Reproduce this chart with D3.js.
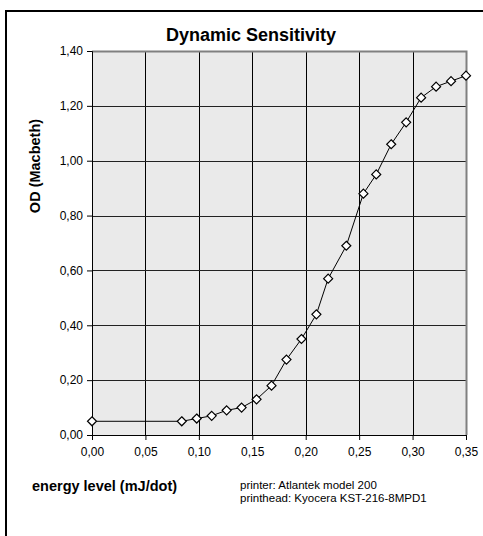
<!DOCTYPE html>
<html>
<head>
<meta charset="utf-8">
<script src="https://cdn.jsdelivr.net/npm/d3@7"></script>
<style>
  body { margin: 0; background: #fff; }
  text { font-family: "Liberation Sans", Arial, sans-serif; }
</style>
</head>
<body>
<div class="chart"></div>
<script>
// energy level (mJ/dot) and measured OD
var energy = [0.000, 0.084, 0.098, 0.112, 0.126, 0.140, 0.154, 0.168, 0.182, 0.196,
  0.210, 0.221, 0.238, 0.254, 0.266, 0.280, 0.294, 0.308, 0.322, 0.336, 0.350];
var od = [0.05, 0.05, 0.06, 0.07, 0.09, 0.10, 0.13, 0.18, 0.275, 0.35,
  0.44, 0.57, 0.69, 0.88, 0.95, 1.06, 1.14, 1.23, 1.27, 1.29, 1.31];
var xTicks = [0, 0.05, 0.10, 0.15, 0.20, 0.25, 0.30, 0.35];
var yTicks = [0, 0.2, 0.4, 0.6, 0.8, 1.0, 1.2, 1.4];
var notes = ["printer: Atlantek model 200", "printhead: Kyocera KST-216-8MPD1"];

var width = 483, height = 536;
var margin = { top: 51, right: 17, bottom: 101, left: 92 };
var plotW = width - margin.left - margin.right,
  plotH = height - margin.top - margin.bottom;

var fmt = function (d) { return d3.format(".2f")(d).replace(".", ","); };

var svg = d3.select(".chart").append("svg")
  .attr("width", width)
  .attr("height", height);

// outer chart frame
svg.append("rect")
  .attr("x", 6).attr("y", 11)
  .attr("width", 500).attr("height", 540)
  .style("fill", "none")
  .style("stroke", "#000")
  .style("stroke-width", 2);

var g = svg.append("g")
  .attr("transform", "translate(" + margin.left + "," + margin.top + ")");

var x = d3.scaleLinear().domain([0, 0.35]).range([0, plotW]);
var y = d3.scaleLinear().domain([0, 1.4]).range([plotH, 0]);

g.append("rect")
  .attr("width", plotW).attr("height", plotH)
  .style("fill", "#eaeaea");

// grid
g.selectAll(".vgrid").data(xTicks.slice(1, -1)).enter().append("line")
  .attr("x1", function (d) { return Math.round(x(d)) + 0.5; })
  .attr("x2", function (d) { return Math.round(x(d)) + 0.5; })
  .attr("y1", 0).attr("y2", plotH)
  .style("stroke", "#000");
g.selectAll(".hgrid").data(yTicks.slice(1, -1)).enter().append("line")
  .attr("x1", 0).attr("x2", plotW)
  .attr("y1", function (d) { return Math.round(y(d)) + 0.5; })
  .attr("y2", function (d) { return Math.round(y(d)) + 0.5; })
  .style("stroke", "#222");

// grey top/right frame
g.append("path")
  .attr("d", "M0,0.5H" + (plotW + 0.5) + "V" + plotH)
  .style("fill", "none")
  .style("stroke", "#808080")
  .style("stroke-width", 2);

// axes
var xAxis = g.append("g")
  .attr("transform", "translate(0," + plotH + ")")
  .call(d3.axisBottom(x).tickValues(xTicks).tickFormat(fmt).tickSize(5).tickPadding(7));
var yAxis = g.append("g")
  .call(d3.axisLeft(y).tickValues(yTicks).tickFormat(fmt).tickSize(5).tickPadding(4));
[xAxis, yAxis].forEach(function (a) {
  a.select(".domain").style("stroke", "#000");
  a.selectAll(".tick line").style("stroke", "#000");
  a.selectAll("text")
    .style("font-family", "'Liberation Sans', Arial, sans-serif")
    .style("font-size", "12px")
    .style("fill", "#000");
});

// series
var pts = energy.map(function (e, i) { return { e: e, od: od[i] }; });
g.append("path")
  .datum(pts)
  .attr("d", d3.line()
    .x(function (d) { return x(d.e); })
    .y(function (d) { return y(d.od); }))
  .style("fill", "none")
  .style("stroke", "#000")
  .style("stroke-width", 1);

g.selectAll(".pt").data(pts).enter().append("path")
  .attr("transform", function (d) { return "translate(" + x(d.e) + "," + y(d.od) + ")"; })
  .attr("d", "M0,-4.5L4.5,0L0,4.5L-4.5,0Z")
  .style("fill", "#fff")
  .style("stroke", "#000")
  .style("stroke-width", 1.2);

// texts
svg.append("text")
  .attr("x", 251).attr("y", 41)
  .attr("text-anchor", "middle")
  .style("font-size", "18px").style("font-weight", "bold")
  .text("Dynamic Sensitivity");

svg.append("text")
  .attr("transform", "translate(40,166) rotate(-90)")
  .attr("text-anchor", "middle")
  .style("font-size", "14.5px").style("font-weight", "bold")
  .text("OD (Macbeth)");

svg.append("text")
  .attr("x", 32).attr("y", 491)
  .style("font-size", "14.5px").style("font-weight", "bold")
  .text("energy level (mJ/dot)");

svg.selectAll(".note").data(notes).enter().append("text")
  .attr("x", 240)
  .attr("y", function (d, i) { return 489 + i * 13; })
  .style("font-size", "11.5px")
  .text(function (d) { return d; });
</script>
</body>
</html>
